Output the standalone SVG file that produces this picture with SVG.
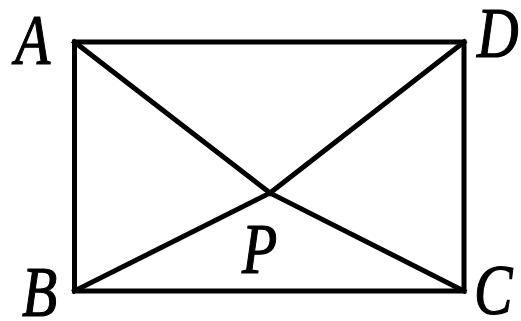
<svg xmlns="http://www.w3.org/2000/svg" width="521" height="321" viewBox="0 0 521 321">
<style>
.e{stroke:#000;stroke-width:5;fill:none;stroke-linecap:square}
.l{font-family:"Liberation Serif","Times New Roman",serif;font-style:italic;font-size:64px;fill:#000;stroke:#000;stroke-width:1.1}
</style>
<rect width="521" height="321" fill="#fff"/>
<g id="connectors">
<rect class="e" x="74.5" y="42" width="389.5" height="249"/>
<line class="e" x1="74.5" y1="42" x2="270" y2="193"/>
<line class="e" x1="464" y1="42" x2="270" y2="193"/>
<line class="e" x1="74.5" y1="291" x2="270" y2="193"/>
<line class="e" x1="464" y1="291" x2="270" y2="193"/>
</g>
<g id="A"><text class="l" transform="translate(15,64) scale(0.9,1.13)">A</text></g>
<g id="D"><text class="l" transform="translate(477,57) scale(0.9,1.13)">D</text></g>
<g id="B"><text class="l" transform="translate(22,316) scale(0.9,1.13)">B</text></g>
<g id="C"><text class="l" transform="translate(474,314) scale(0.9,1.13)">C</text></g>
<g id="P"><text class="l" transform="translate(242,273) scale(0.9,1.13)">P</text></g>
</svg>
